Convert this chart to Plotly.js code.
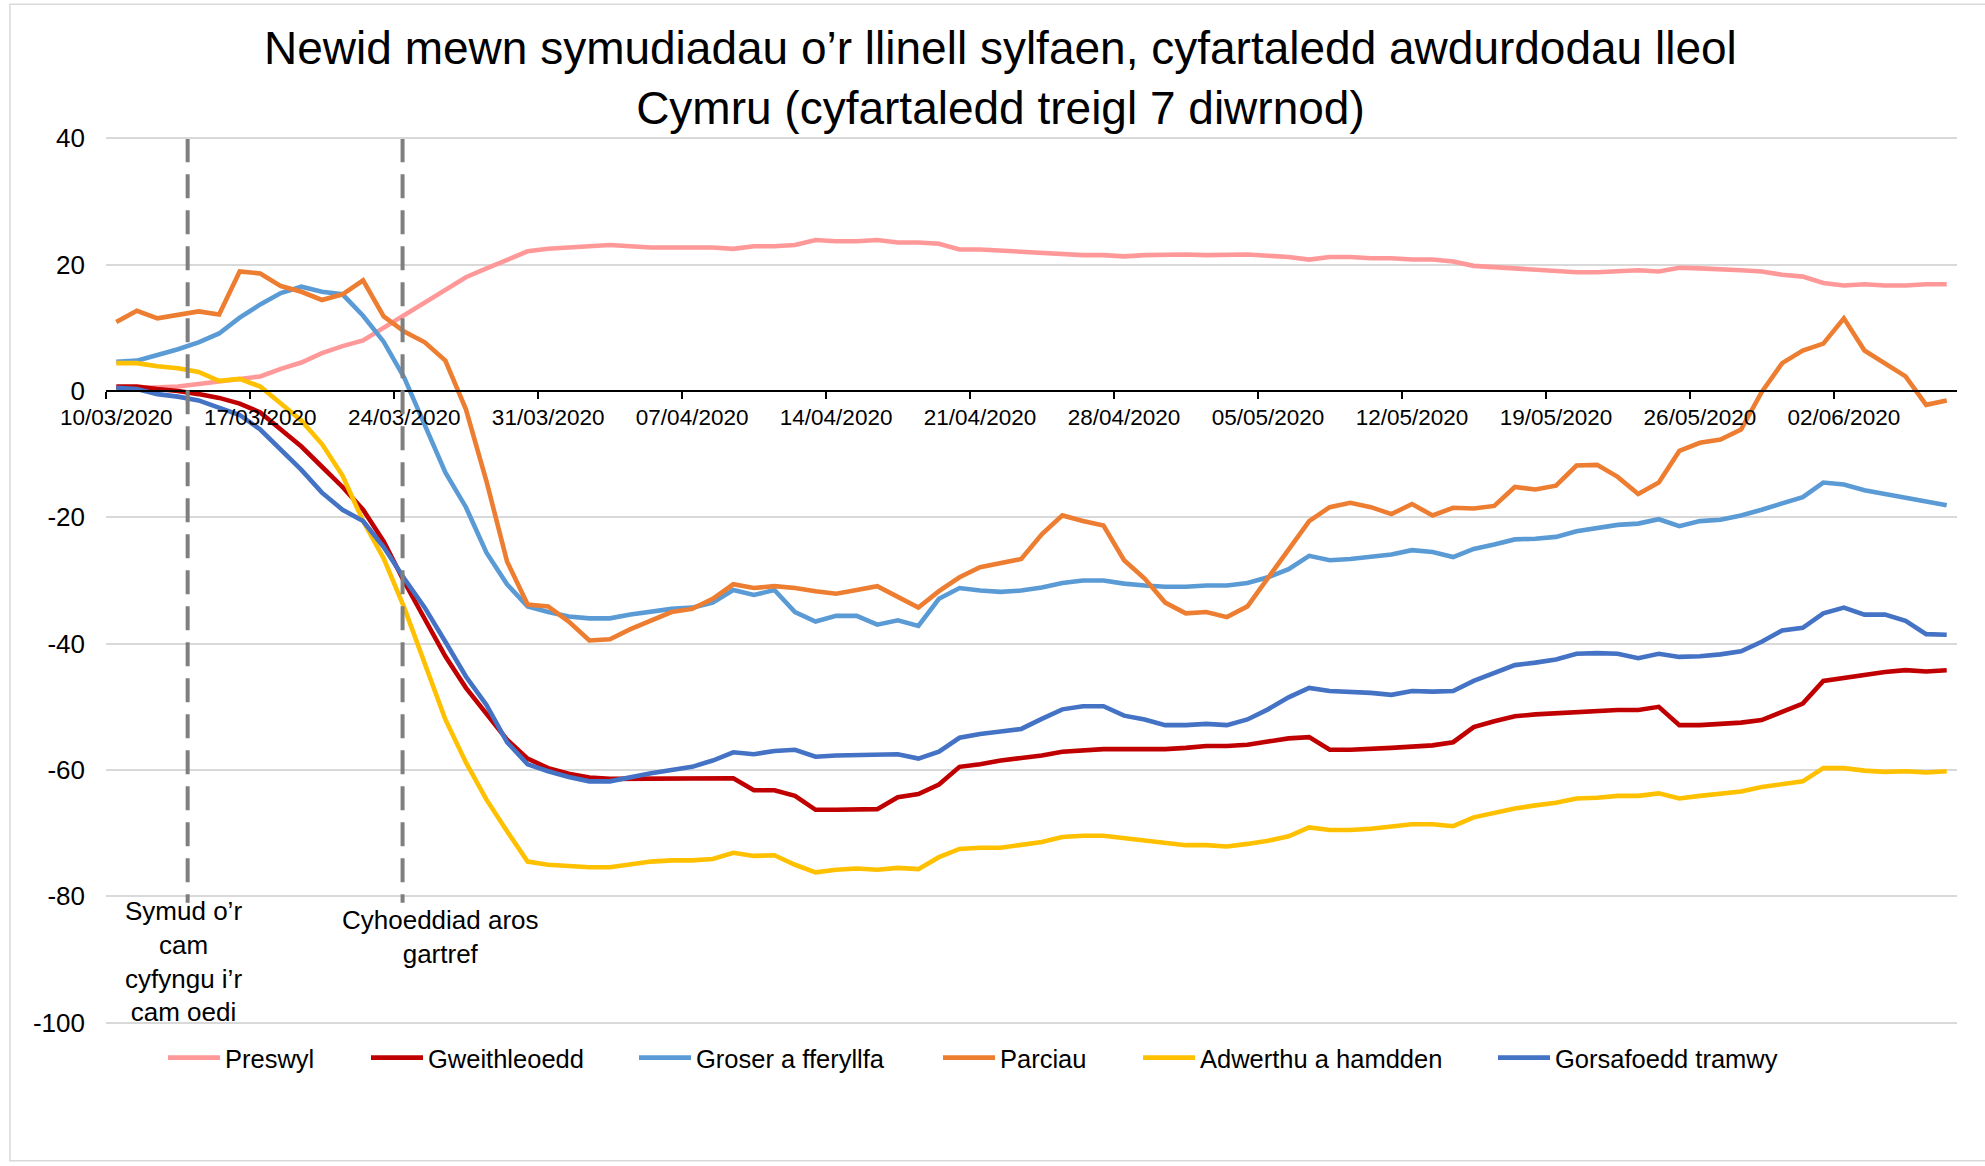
<!DOCTYPE html>
<html>
<head>
<meta charset="utf-8">
<script src="https://cdn.plot.ly/plotly-3.0.1.min.js"></script>
<style>
html,body{margin:0;padding:0;background:#ffffff;}
#chart{width:1985px;height:1166px;}
</style>
</head>
<body>
<div id="chart"></div>
<script>
// Category labels: daily dates 10/03/2020 .. 07/06/2020
const firstDay = {y: 2020, m: 3, d: 10};
const dayCount = 90;
const dates = [];
for (let i = 0; i < dayCount; i++) {
  const dt = new Date(Date.UTC(firstDay.y, firstDay.m - 1, firstDay.d + i));
  const dd = String(dt.getUTCDate()).padStart(2, '0');
  const mm = String(dt.getUTCMonth() + 1).padStart(2, '0');
  dates.push(dd + '/' + mm + '/' + dt.getUTCFullYear());
}

const seriesNames = ['Preswyl', 'Gweithleoedd', 'Groser a fferyllfa', 'Parciau', 'Adwerthu a hamdden', 'Gorsafoedd tramwy'];
const seriesColors = ['#FF9999', '#C00000', '#5B9BD5', '#ED7D31', '#FFC000', '#4472C4'];

const preswyl = [
  0.3,0.4,0.5,0.7,1.1,1.5,1.8,2.3,3.5,4.5,6,7.1,8,10,11.8,13.9,15.9,18,19.4,20.7,22.1,22.5,22.7,
  22.8,23.1,22.9,22.7,22.7,22.7,22.7,22.5,22.9,22.9,23.1,23.9,23.7,23.7,23.9,23.5,23.5,23.3,22.4,22.4,22.2,22.0,21.8,
  21.7,21.5,21.5,21.3,21.5,21.6,21.6,21.5,21.6,21.6,21.4,21.2,20.8,21.2,21.2,21,21,20.8,20.8,20.5,19.8,19.6,
  19.4,19.2,19,18.8,18.8,18.9,19.1,18.9,19.5,19.4,19.3,19.1,18.9,18.4,18.1,17.1,16.7,16.9,16.7,16.7,16.9,16.9
];
const gweithleoedd = [
  0.7,0.7,0.3,0,-0.5,-1.1,-2,-3.4,-6.1,-8.8,-12,-15.2,-18.8,-23.8,-30.2,-36.1,-42,-47,-51.1,-55.2,-58.2,-59.7,-60.6,
  -61.2,-61.4,-61.4,-61.3,-61.3,-61.3,-61.3,-61.3,-63.2,-63.2,-64.1,-66.3,-66.3,-66.2,-66.2,-64.3,-63.8,-62.3,-59.5,-59.1,-58.5,-58.1,-57.7,
  -57.1,-56.9,-56.7,-56.7,-56.7,-56.7,-56.5,-56.2,-56.2,-56,-55.5,-55,-54.8,-56.8,-56.8,-56.7,-56.5,-56.3,-56.1,-55.6,-53.2,-52.3,
  -51.5,-51.2,-51,-50.8,-50.6,-50.5,-50.5,-50,-52.9,-52.9,-52.7,-52.5,-52.1,-50.8,-49.5,-45.9,-45.4,-44.9,-44.5,-44.2,-44.4,-44.2
];
const groser = [
  4.6,4.8,5.7,6.6,7.7,9.1,11.6,13.7,15.5,16.5,15.7,15.3,11.9,7.8,2.1,-5.2,-12.9,-18.4,-25.6,-30.6,-34.1,-35,-35.7,
  -36,-36,-35.4,-35,-34.5,-34.3,-33.5,-31.5,-32.3,-31.5,-35,-36.5,-35.6,-35.6,-37,-36.3,-37.2,-32.9,-31.2,-31.6,-31.8,-31.6,-31.1,
  -30.4,-30,-30,-30.5,-30.8,-31,-31,-30.8,-30.8,-30.4,-29.5,-28.2,-26.1,-26.8,-26.6,-26.3,-25.9,-25.2,-25.5,-26.3,-25,-24.3,
  -23.5,-23.4,-23.1,-22.2,-21.7,-21.2,-21,-20.3,-21.4,-20.6,-20.4,-19.7,-18.8,-17.8,-16.8,-14.5,-14.8,-15.7,-16.3,-16.8,-17.5,-18.1
];
const parciau = [
  10.9,12.7,11.5,12.1,12.6,12.1,18.9,18.6,16.6,15.7,14.4,15.3,17.5,11.8,9.4,7.7,4.8,-2.9,-14.3,-27,-33.8,-34.1,-36.5,
  -39.5,-39.3,-37.7,-36.4,-35,-34.5,-32.9,-30.6,-31.2,-30.9,-31.2,-31.7,-32.1,-31.5,-30.9,-32.6,-34.3,-31.7,-29.5,-27.9,-27.3,-26.6,-22.7,
  -19.7,-20.6,-21.3,-26.8,-29.7,-33.5,-35.2,-35,-35.8,-34.1,-29.7,-25.2,-20.6,-18.4,-17.7,-18.4,-19.5,-17.9,-19.7,-18.5,-18.6,-18.2,
  -15.2,-15.6,-15,-11.8,-11.7,-13.6,-16.3,-14.5,-9.5,-8.2,-7.7,-6.1,-0.2,4.4,6.4,7.5,11.5,6.4,4.4,2.3,-2.2,-1.5
];
const adwerthu = [
  4.4,4.4,3.9,3.6,3,1.6,1.9,0.7,-2,-4.7,-8.4,-13.4,-20.6,-26.5,-34.3,-43.4,-52,-58.8,-64.7,-69.7,-74.5,-75,-75.2,
  -75.4,-75.4,-75,-74.5,-74.3,-74.3,-74.1,-73.1,-73.6,-73.5,-75,-76.2,-75.8,-75.6,-75.8,-75.5,-75.7,-73.8,-72.5,-72.3,-72.3,-71.9,-71.4,
  -70.6,-70.4,-70.4,-70.8,-71.2,-71.5,-71.9,-71.9,-72.1,-71.7,-71.2,-70.5,-69.1,-69.5,-69.5,-69.3,-69,-68.6,-68.6,-68.9,-67.5,-66.8,
  -66.1,-65.6,-65.2,-64.5,-64.4,-64.1,-64.1,-63.7,-64.5,-64.1,-63.8,-63.4,-62.7,-62.3,-61.8,-59.7,-59.7,-60.1,-60.3,-60.2,-60.4,-60.2
];
const gorsafoedd = [
  0.5,0.3,-0.5,-0.9,-1.5,-2.6,-3.8,-6.1,-9.3,-12.5,-16.1,-18.8,-20.6,-24.7,-29.7,-34.3,-39.7,-45.2,-49.7,-55.6,-59.1,-60.2,-61.1,
  -61.8,-61.8,-61.1,-60.5,-60,-59.5,-58.5,-57.2,-57.5,-57,-56.8,-57.9,-57.7,-57.6,-57.6,-57.5,-58.2,-57.1,-54.9,-54.3,-53.9,-53.5,-51.9,
  -50.4,-49.9,-49.9,-51.4,-52,-52.9,-52.9,-52.7,-52.9,-52,-50.4,-48.5,-47,-47.5,-47.6,-47.8,-48.1,-47.5,-47.6,-47.5,-45.9,-44.7,
  -43.4,-43,-42.5,-41.6,-41.5,-41.6,-42.3,-41.6,-42.1,-42,-41.7,-41.2,-39.7,-37.9,-37.5,-35.2,-34.3,-35.4,-35.4,-36.4,-38.5,-38.6
];
const seriesValues = [preswyl, gweithleoedd, groser, parciau, adwerthu, gorsafoedd];

const eventLabels = ['Symud o’r<br>cam<br>cyfyngu i’r<br>cam oedi', 'Cyhoeddiad aros<br>gartref'];
const eventLinePos = [3.47, 13.92];

const titleText = 'Newid mewn symudiadau o’r llinell sylfaen, cyfartaledd awdurdodau lleol<br>Cymru (cyfartaledd treigl 7 diwrnod)';
const yTickVals = [40, 20, 0, -20, -40, -60, -80, -100];
const yTickText = ['40', '20', '0', '-20', '-40', '-60', '-80', '-100'];

const FONT = 'Liberation Sans, Arial, sans-serif';

// layout-only settings
const yRange = [-101, 40.2];
const eventLabelPos = [[3.28, -90.3], [15.76, -86.5]];
const legendStartPx = [168, 371, 639, 943, 1143, 1498];
const legendIds = ['legend', 'legend2', 'legend3', 'legend4', 'legend5', 'legend6'];

const traces = seriesNames.map((name, k) => ({
  type: 'scatter',
  mode: 'lines',
  name: name,
  x: dates,
  y: seriesValues[k],
  line: {color: seriesColors[k], width: 4.6},
  legend: legendIds[k],
  hoverinfo: 'x+y+name'
}));

const shapes = eventLinePos.map(p => ({
  type: 'line', xref: 'x', yref: 'y',
  x0: p, x1: p, y0: 40, y1: -81,
  line: {color: '#7F7F7F', width: 4, dash: '24px,12px'}
}));
// make sure the outermost gridlines (40 and -100) are drawn
[yTickVals[0], yTickVals[yTickVals.length - 1]].forEach(v => {
  shapes.push({
    type: 'line', xref: 'paper', yref: 'y', layer: 'above',
    x0: 0, x1: 1, y0: v, y1: v,
    line: {color: '#D9D9D9', width: 1.6}
  });
});
shapes.push({
  type: 'rect', xref: 'paper', yref: 'paper', layer: 'below',
  x0: -0.0519, x1: 1.03, y0: -0.1476, y1: 1.1488,
  line: {color: '#D9D9D9', width: 1.5}, fillcolor: 'rgba(0,0,0,0)'
});

const annotations = eventLabels.map((t, k) => ({
  text: t, xref: 'x', yref: 'y', x: eventLabelPos[k][0], y: eventLabelPos[k][1],
  xanchor: 'center', yanchor: 'middle', showarrow: false, align: 'center',
  font: {family: FONT, size: 26, color: '#000000'}
}));

const layout = {
  width: 1985, height: 1166,
  paper_bgcolor: '#ffffff', plot_bgcolor: 'rgba(0,0,0,0)',
  margin: {l: 106, r: 28, t: 137, b: 136.7},
  title: {
    text: titleText,
    font: {family: FONT, size: 46, color: '#000000'},
    x: 0.504, xref: 'container', xanchor: 'center',
    y: 1 - 64 / 1166, yref: 'container', yanchor: 'middle'
  },
  xaxis: {
    type: 'category',
    range: [-0.5, dayCount - 0.5],
    anchor: 'free', position: (0 - yRange[0]) / (yRange[1] - yRange[0]),
    showline: true, linecolor: '#000000', linewidth: 2,
    showgrid: false, zeroline: false,
    ticks: 'outside', ticklen: 7, tickwidth: 2, tickcolor: '#000000',
    tickson: 'boundaries', dtick: 7, tickangle: 0,
    ticklabelstandoff: 6,
    tickfont: {family: FONT, size: 22.5, color: '#000000'}
  },
  yaxis: {
    range: yRange,
    tickvals: yTickVals, ticktext: yTickText,
    showline: false, zeroline: false,
    showgrid: true, gridcolor: '#D9D9D9', gridwidth: 1.5,
    ticks: '', ticklabelstandoff: 20,
    tickfont: {family: FONT, size: 26, color: '#000000'}
  },
  shapes: shapes,
  annotations: annotations,
  showlegend: true
};

legendIds.forEach((id, k) => {
  layout[id] = {
    orientation: 'h', xref: 'container', yref: 'container',
    x: (legendStartPx[k] - 5) / 1985, xanchor: 'left',
    y: 1 - 1058 / 1166, yanchor: 'middle',
    font: {family: FONT, size: 25.5, color: '#000000'},
    itemwidth: 52, bgcolor: 'rgba(0,0,0,0)', borderwidth: 0
  };
});

Plotly.newPlot('chart', traces, layout, {displayModeBar: false, responsive: false});
</script>
</body>
</html>
